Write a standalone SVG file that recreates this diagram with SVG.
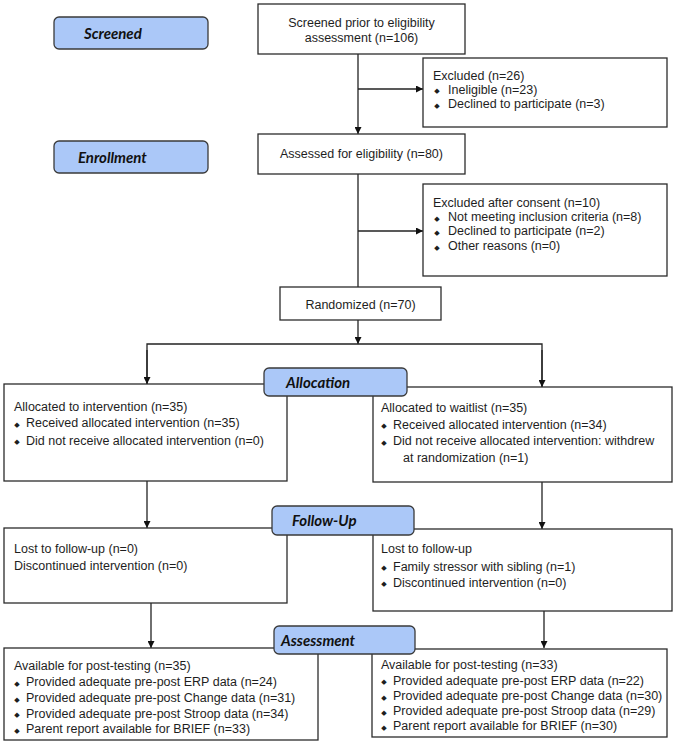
<svg xmlns="http://www.w3.org/2000/svg" width="677" height="750" viewBox="0 0 677 750">
<defs>
<style>
.box{fill:#fff;stroke:#2b2b2b;stroke-width:1.3}
.lab{fill:#abc8f8;stroke:#3a3a3a;stroke-width:1.3}
.t{font-family:"Liberation Sans",Arial,sans-serif;font-size:12.5px;fill:#1e1e1e}
.c{text-anchor:middle}
.b{font-family:"DejaVu Sans",sans-serif;font-size:7px;fill:#1e1e1e;text-anchor:middle}
.lt{font-family:Lato,"Open Sans",sans-serif;font-size:15px;font-weight:bold;font-style:italic;fill:#111}
.ln{fill:none;stroke:#222;stroke-width:1.3}
</style>
<marker id="ah" viewBox="0 0 10 10" refX="10" refY="5" markerWidth="7" markerHeight="7" markerUnits="userSpaceOnUse" orient="auto">
<path d="M0,0 L10,5 L0,10 z" fill="#111"/>
</marker>
</defs>
<rect width="677" height="750" fill="#fff"/>

<g id="connectors">
<line class="ln" x1="358" y1="54" x2="358" y2="134" marker-end="url(#ah)"/>
<line class="ln" x1="358" y1="89" x2="423" y2="89" marker-end="url(#ah)"/>
<line class="ln" x1="358" y1="174" x2="358" y2="287"/>
<line class="ln" x1="358" y1="231" x2="423" y2="231" marker-end="url(#ah)"/>
<line class="ln" x1="358" y1="320" x2="358" y2="344" marker-end="url(#ah)"/>
<polyline class="ln" points="147,384 147,344 542,344 542,387"/>
<line class="ln" x1="147" y1="350" x2="147" y2="384" marker-end="url(#ah)"/>
<line class="ln" x1="542" y1="350" x2="542" y2="387" marker-end="url(#ah)"/>
<line class="ln" x1="147" y1="481" x2="147" y2="528" marker-end="url(#ah)"/>
<line class="ln" x1="542" y1="482" x2="542" y2="529" marker-end="url(#ah)"/>
<line class="ln" x1="151" y1="603" x2="151" y2="648" marker-end="url(#ah)"/>
<line class="ln" x1="544" y1="611" x2="544" y2="648" marker-end="url(#ah)"/>
</g>

<g id="screened-label">
<rect class="lab" x="54" y="17" width="154" height="32" rx="5"/>
<text class="lt" x="84" y="38.5">Screened</text>
</g>
<g id="enrollment-label">
<rect class="lab" x="54" y="141" width="154" height="32" rx="5"/>
<text class="lt" x="78" y="162.5">Enrollment</text>
</g>

<g id="screened">
<rect class="box" x="258" y="4" width="207" height="50"/>
<text class="t c" x="361.5" y="26.5">Screened prior to eligibility</text>
<text class="t c" x="361.5" y="41.5">assessment (n=106)</text>
</g>

<g id="excluded">
<rect class="box" x="423" y="58" width="244" height="69"/>
<text class="t" x="433" y="79.5">Excluded (n=26)</text>
<text class="b" x="437" y="93">◆</text><text class="t" x="448" y="93.5">Ineligible (n=23)</text>
<text class="b" x="437" y="107.5">◆</text><text class="t" x="448" y="108">Declined to participate (n=3)</text>
</g>

<g id="assessed">
<rect class="box" x="258" y="134" width="207" height="40"/>
<text class="t c" x="361.5" y="157.5">Assessed for eligibility (n=80)</text>
</g>

<g id="excluded-consent">
<rect class="box" x="423" y="184" width="244" height="92"/>
<text class="t" x="433" y="207">Excluded after consent (n=10)</text>
<text class="b" x="437" y="220.5">◆</text><text class="t" x="448" y="221">Not meeting inclusion criteria (n=8)</text>
<text class="b" x="437" y="234.5">◆</text><text class="t" x="448" y="235">Declined to participate (n=2)</text>
<text class="b" x="437" y="249.5">◆</text><text class="t" x="448" y="250">Other reasons (n=0)</text>
</g>

<g id="randomized">
<rect class="box" x="280" y="287" width="161" height="33"/>
<text class="t c" x="360.5" y="308.5">Randomized (n=70)</text>
</g>

<g id="alloc-left">
<rect class="box" x="4" y="384" width="283" height="97"/>
<text class="t" x="14" y="410.5">Allocated to intervention (n=35)</text>
<text class="b" x="17" y="426.5">◆</text><text class="t" x="26" y="427">Received allocated intervention (n=35)</text>
<text class="b" x="17" y="444">◆</text><text class="t" x="26" y="444.5">Did not receive allocated intervention (n=0)</text>
</g>

<g id="alloc-right">
<rect class="box" x="373" y="387" width="299" height="95"/>
<text class="t" x="381" y="411.5">Allocated to waitlist (n=35)</text>
<text class="b" x="384" y="428">◆</text><text class="t" x="393" y="428.5">Received allocated intervention (n=34)</text>
<text class="b" x="384" y="444.5">◆</text><text class="t" x="393" y="445">Did not receive allocated intervention: withdrew</text>
<text class="t" x="403" y="461.5">at randomization (n=1)</text>
</g>

<g id="allocation-label">
<rect class="lab" x="264" y="368" width="143" height="28" rx="5"/>
<text class="lt" x="286" y="387.5">Allocation</text>
</g>

<g id="followup-left">
<rect class="box" x="4" y="528" width="283" height="75"/>
<text class="t" x="14" y="553">Lost to follow-up (n=0)</text>
<text class="t" x="14" y="569.5">Discontinued intervention (n=0)</text>
</g>

<g id="followup-right">
<rect class="box" x="373" y="529" width="299" height="82"/>
<text class="t" x="381" y="553">Lost to follow-up</text>
<text class="b" x="384" y="570">◆</text><text class="t" x="393" y="570.5">Family stressor with sibling (n=1)</text>
<text class="b" x="384" y="586">◆</text><text class="t" x="393" y="586.5">Discontinued intervention (n=0)</text>
</g>

<g id="followup-label">
<rect class="lab" x="272" y="506" width="142" height="29" rx="5"/>
<text class="lt" x="292" y="526">Follow-Up</text>
</g>

<g id="assess-left">
<rect class="box" x="4" y="648" width="314" height="92"/>
<text class="t" x="14" y="670">Available  for post-testing (n=35)</text>
<text class="b" x="17" y="685.5">◆</text><text class="t" x="26" y="686">Provided adequate pre-post ERP data (n=24)</text>
<text class="b" x="17" y="701.5">◆</text><text class="t" x="26" y="702">Provided adequate pre-post Change data (n=31)</text>
<text class="b" x="17" y="717">◆</text><text class="t" x="26" y="717.5">Provided adequate pre-post Stroop data (n=34)</text>
<text class="b" x="17" y="732.5">◆</text><text class="t" x="26" y="733">Parent report available for BRIEF (n=33)</text>
</g>

<g id="assess-right">
<rect class="box" x="372" y="649" width="295" height="88"/>
<text class="t" x="381" y="669">Available  for post-testing (n=33)</text>
<text class="b" x="384" y="684">◆</text><text class="t" x="393" y="684.5">Provided adequate pre-post ERP data (n=22)</text>
<text class="b" x="384" y="699.5">◆</text><text class="t" x="393" y="700">Provided adequate pre-post Change data (n=30)</text>
<text class="b" x="384" y="714.5">◆</text><text class="t" x="393" y="715">Provided adequate pre-post Stroop data (n=29)</text>
<text class="b" x="384" y="729.5">◆</text><text class="t" x="393" y="730">Parent report available for BRIEF (n=30)</text>
</g>

<g id="assessment-label">
<rect class="lab" x="274" y="626" width="141" height="28" rx="5"/>
<text class="lt" x="281" y="645.5">Assessment</text>
</g>
</svg>
